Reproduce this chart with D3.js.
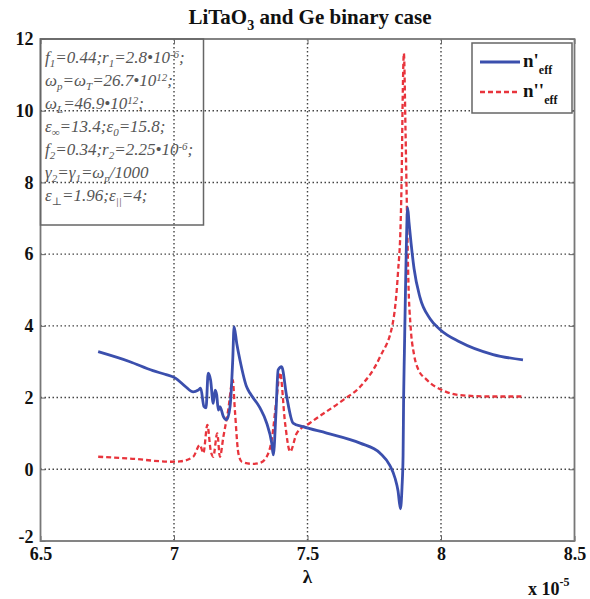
<!DOCTYPE html>
<html><head><meta charset="utf-8">
<script src="https://cdn.jsdelivr.net/npm/d3@7"></script>
<style>html,body{margin:0;padding:0;background:#fff;}svg{display:block;}</style>
</head><body>
<svg id="chart" width="590" height="599"></svg>
<script>
// ---- data (λ in units of 1e-5) ----
const blueLambda = [6.716,6.835,6.921,6.966,7.004,7.041,7.072,7.091,7.100,7.112,7.120,7.128,7.137,7.147,7.154,7.160,7.166,7.172,7.185,7.197,7.210,7.220,7.225,7.235,7.247,7.272,7.285,7.322,7.347,7.366,7.372,7.382,7.390,7.403,7.422,7.446,7.483,7.572,7.697,7.772,7.809,7.828,7.839,7.848,7.854,7.858,7.860,7.863,7.867,7.871,7.875,7.880,7.888,7.899,7.921,7.959,7.996,8.071,8.195,8.307];
const blueValues = [3.28,3.00,2.75,2.65,2.55,2.32,2.16,2.21,2.26,1.75,1.71,2.68,2.49,1.84,2.21,2.07,1.65,1.75,1.47,1.38,1.75,3.05,3.98,3.51,3.05,2.30,2.12,1.71,1.29,0.73,0.40,1.60,2.77,2.86,2.03,1.29,1.19,1.01,0.73,0.45,0.10,-0.25,-0.60,-1.10,-0.50,0.40,2.00,3.30,5.00,6.50,7.30,6.90,6.30,5.60,4.80,4.20,3.90,3.55,3.20,3.05];
const redLambda = [6.716,6.835,6.991,7.022,7.072,7.097,7.110,7.125,7.137,7.147,7.162,7.172,7.185,7.203,7.220,7.228,7.241,7.254,7.296,7.322,7.347,7.366,7.385,7.397,7.416,7.435,7.460,7.509,7.633,7.697,7.772,7.820,7.839,7.849,7.853,7.856,7.861,7.867,7.873,7.878,7.886,7.899,7.914,7.946,8.007,8.071,8.183,8.307];
const redValues = [0.35,0.30,0.21,0.22,0.35,0.68,0.45,1.24,0.54,0.35,1.00,0.35,0.91,1.65,2.49,1.65,0.45,0.21,0.15,0.18,0.35,0.82,2.03,2.70,1.29,0.49,1.01,1.29,1.93,2.30,3.14,4.10,5.50,6.90,8.30,10.10,11.60,9.50,7.00,5.20,4.00,3.20,2.80,2.50,2.20,2.07,2.03,2.03];
const xTicks = [6.5,7,7.5,8,8.5];
const xTickLabels = ["6.5","7","7.5","8","8.5"];
const yTicks = [-2,0,2,4,6,8,10,12];
const yTickLabels = ["-2","0","2","4","6","8","10","12"];

const svg = d3.select("#chart");
const X0=40.5, X1=574.5, Y0=541, Y1=39;
const x = d3.scaleLinear().domain([6.5,8.5]).range([X0,X1]);
const y = d3.scaleLinear().domain([-2,12]).range([Y0,Y1]);
const serif = "'Liberation Serif','DejaVu Serif',serif";
const gridCol = "#444";
const blueCol = "#3b4fad", redCol = "#e8343c";

// grid
const g = svg.append("g");
xTicks.slice(1,-1).forEach(t=>{
  g.append("line").attr("x1",x(t)).attr("x2",x(t)).attr("y1",Y1).attr("y2",Y0)
   .attr("stroke",gridCol).attr("stroke-width",1.4).attr("stroke-dasharray","1.5,2.5");
});
yTicks.slice(1,-1).forEach(t=>{
  g.append("line").attr("x1",X0).attr("x2",X1).attr("y1",y(t)).attr("y2",y(t))
   .attr("stroke",gridCol).attr("stroke-width",1.4).attr("stroke-dasharray","1.5,2.5");
});

// axes with inward ticks
const xAxisB = d3.axisBottom(x).tickValues(xTicks).tickFormat((d,i)=>xTickLabels[i]).tickSizeInner(-5).tickSizeOuter(0).tickPadding(6);
const yAxisL = d3.axisLeft(y).tickValues(yTicks).tickFormat((d,i)=>yTickLabels[i]).tickSizeInner(-5).tickSizeOuter(0).tickPadding(7);
const gx = svg.append("g").attr("transform",`translate(0,${Y0})`).call(xAxisB);
const gy = svg.append("g").attr("transform",`translate(${X0},0)`).call(yAxisL);
[gx,gy].forEach(a=>{
  a.select(".domain").remove();
  a.selectAll("line").attr("stroke","#666");
  a.selectAll("text").attr("font-family",serif).attr("font-weight","bold").attr("font-size",18).attr("fill","#111");
});
gy.selectAll("text").attr("dy","0.32em");
gy.selectAll("text").filter((d)=>d===-2).attr("dy","0.1em");
svg.append("g").attr("transform",`translate(0,${Y1})`).call(d3.axisTop(x).tickValues(xTicks).tickFormat("").tickSizeInner(-5).tickSizeOuter(0))
  .call(a=>{a.select(".domain").remove();a.selectAll("line").attr("stroke","#666");});
svg.append("g").attr("transform",`translate(${X1},0)`).call(d3.axisRight(y).tickValues(yTicks).tickFormat("").tickSizeInner(-5).tickSizeOuter(0))
  .call(a=>{a.select(".domain").remove();a.selectAll("line").attr("stroke","#666");});

// frame
svg.append("rect").attr("x",X0).attr("y",Y1).attr("width",X1-X0).attr("height",Y0-Y1)
  .attr("fill","none").attr("stroke","#777").attr("stroke-width",1.8);

// curves
const line = d3.line().x(d=>x(d[0])).y(d=>y(d[1])).curve(d3.curveMonotoneX);
const blue = blueLambda.map((l,i)=>[l,blueValues[i]]);
const red = redLambda.map((l,i)=>[l,redValues[i]]);
svg.append("path").attr("d",line(red)).attr("fill","none").attr("stroke",redCol)
  .attr("stroke-width",2.3).attr("stroke-dasharray","5,3");
svg.append("path").attr("d",line(blue)).attr("fill","none").attr("stroke",blueCol)
  .attr("stroke-width",2.8).attr("stroke-linejoin","round");

// parameter text box
svg.append("rect").attr("x",X0).attr("y",Y1).attr("width",163).attr("height",186)
  .attr("fill","none").attr("stroke","#666").attr("stroke-width",1.5);
const paramLines = [
  [["f","n"],["1","sub"],["=0.44;r","n"],["1","sub"],["=2.8•10","n"],["-6","sup"],[";","n"]],
  [["ω","n"],["p","sub"],["=ω","n"],["T","sub"],["=26.7•10","n"],["12","sup"],[";","n"]],
  [["ω","n"],["L","sub"],["=46.9•10","n"],["12","sup"],[";","n"]],
  [["ε","n"],["∞","sub"],["=13.4;ε","n"],["0","sub"],["=15.8;","n"]],
  [["f","n"],["2","sub"],["=0.34;r","n"],["2","sub"],["=2.25•10","n"],["-6","sup"],[";","n"]],
  [["γ","n"],["2","sub"],["=γ","n"],["1","sub"],["=ω","n"],["p","sub"],["/1000","n"]],
  [["ε","n"],["⊥","sub"],["=1.96;ε","n"],["||","sub"],["=4;","n"]]
];
paramLines.forEach((parts,i)=>{
  const t = svg.append("text").attr("x",45).attr("y",63+i*23)
    .attr("font-family",serif).attr("font-style","italic").attr("font-size",17).attr("fill","#555");
  let cur=0;
  parts.forEach(([s,k])=>{
    const ts = t.append("tspan").text(s);
    const target = k==="sub"?4:(k==="sup"?-5:0);
    if(k!=="n") ts.attr("font-size",11);
    ts.attr("dy",target-cur); cur=target;
  });
});

// legend
svg.append("rect").attr("x",472).attr("y",43).attr("width",100).attr("height",70)
  .attr("fill","#fff").attr("stroke","#666").attr("stroke-width",1.5);
svg.append("line").attr("x1",480).attr("x2",520).attr("y1",62).attr("y2",62)
  .attr("stroke",blueCol).attr("stroke-width",2.8);
svg.append("line").attr("x1",480).attr("x2",520).attr("y1",92).attr("y2",92)
  .attr("stroke",redCol).attr("stroke-width",2.3).attr("stroke-dasharray","5,3");
const lg1 = svg.append("text").attr("x",523).attr("y",67).attr("font-family",serif).attr("font-weight","bold").attr("font-size",19).attr("fill","#111");
lg1.append("tspan").text("n'");
lg1.append("tspan").text("eff").attr("font-size",12).attr("dy",7);
const lg2 = svg.append("text").attr("x",523).attr("y",97).attr("font-family",serif).attr("font-weight","bold").attr("font-size",19).attr("fill","#111");
lg2.append("tspan").text("n''");
lg2.append("tspan").text("eff").attr("font-size",12).attr("dy",7);

// title
const title = svg.append("text").attr("x",310).attr("y",24).attr("text-anchor","middle")
  .attr("font-family",serif).attr("font-weight","bold").attr("font-size",21).attr("fill","#111");
title.append("tspan").text("LiTaO");
title.append("tspan").text("3").attr("font-size",14).attr("dy",6);
title.append("tspan").text(" and Ge binary case").attr("dy",-6);

// axis labels
svg.append("text").attr("x",x(7.5)).attr("y",583).attr("text-anchor","middle")
  .attr("font-family",serif).attr("font-weight","bold").attr("font-size",19).attr("fill","#111").text("λ");
const mult = svg.append("text").attr("x",528).attr("y",595)
  .attr("font-family",serif).attr("font-weight","bold").attr("font-size",18).attr("fill","#111");
mult.append("tspan").text("x 10");
mult.append("tspan").text("-5").attr("font-size",12).attr("dy",-9);
</script>
</body></html>
